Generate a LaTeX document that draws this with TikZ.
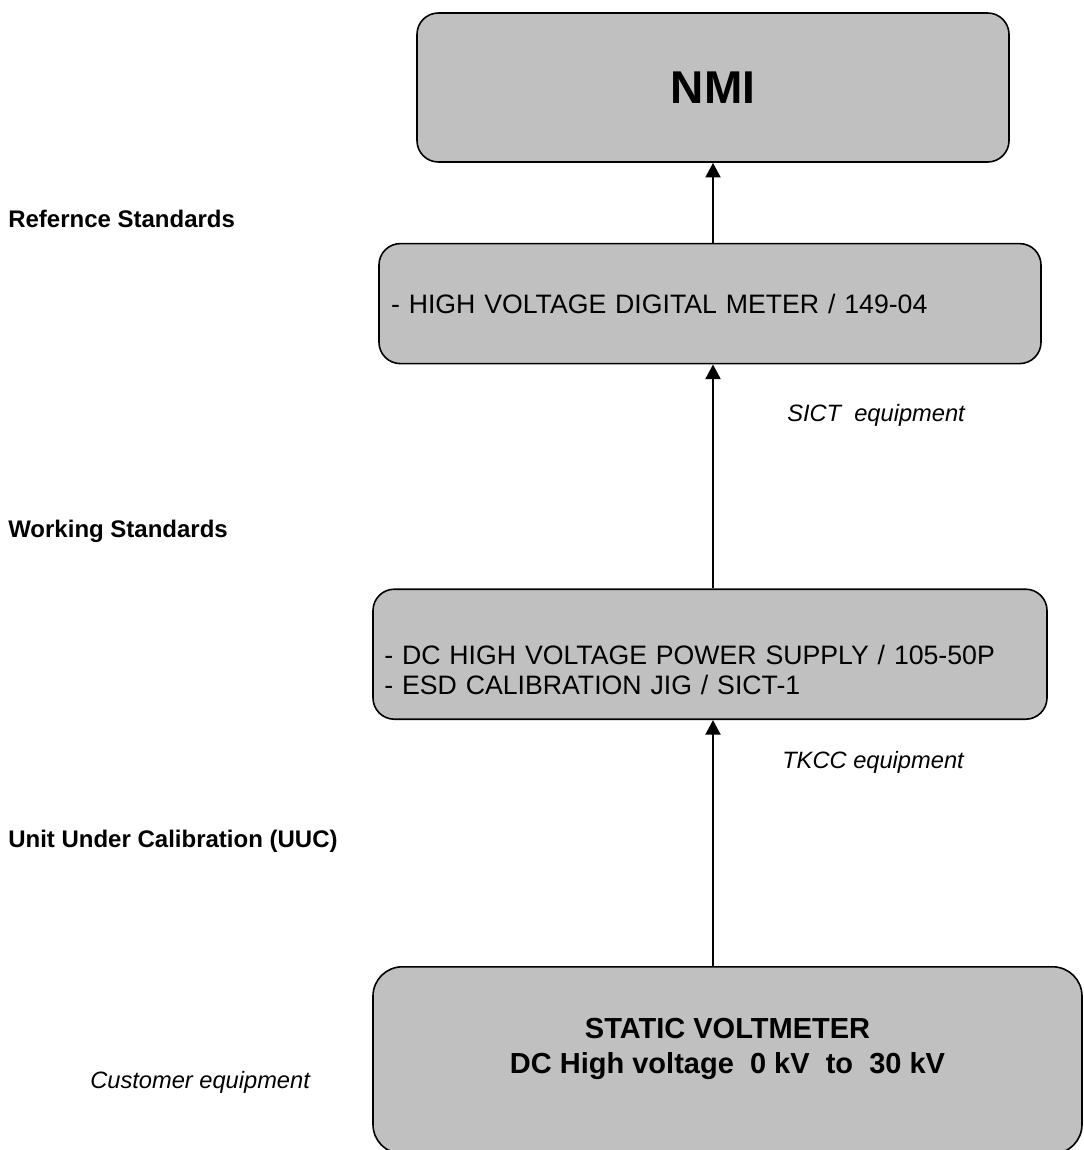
\documentclass[tikz,border=0pt]{standalone}
\usepackage{fontspec}
\setmainfont{Liberation Sans}
\usepackage{tikz}
\usetikzlibrary{positioning}
\usetikzlibrary{arrows.meta}
\definecolor{boxgray}{HTML}{C0C0C0}

\begin{document}
\begin{tikzpicture}[x=0.75pt, y=-0.75pt]

    \tikzstyle{std-box}     = [draw, line width=1.2pt, fill=boxgray, rounded corners=16pt, inner ysep=0pt];
    \tikzstyle{list-box}    = [std-box, align=left, font=\fontsize{20}{22.5}\selectfont];
    \tikzstyle{tier-label}  = [anchor=base west, inner sep=0pt, font=\fontsize{18}{21}\selectfont\bfseries];
    \tikzstyle{note-label}  = [anchor=base west, inner sep=0pt, font=\fontsize{17.75}{21}\selectfont\itshape];
    \tikzstyle{thick-arrow} = [line width=2.2pt, -{Triangle[length=11pt, width=11pt]}];

    \clip (0,0) rectangle (1083,1150);

    %
    % NMI
    %
    \node[std-box, minimum width=444pt, minimum height=111.75pt,
        font=\fontsize{34.5}{40}\selectfont\bfseries] (nmi) at (713,87.5) {NMI};

    %
    % Reference standards
    %
    \node[list-box, text width=478.5pt, inner xsep=9pt, minimum height=90pt] (refstd)
        [below=60pt of nmi, xshift=-2.25pt] {- HIGH VOLTAGE DIGITAL METER / 149-04};

    %
    % Working standards
    %
    \node[list-box, text width=488.5pt, inner xsep=8.5pt, minimum height=97.5pt] (workstd)
        [below=168pt of refstd] {\strut\\- DC HIGH VOLTAGE POWER SUPPLY / 105-50P\\- ESD CALIBRATION JIG / SICT-1};

    %
    % Unit under calibration
    %
    \node[std-box, align=center, minimum width=531.75pt, minimum height=140.25pt, rounded corners=22pt,
        font=\fontsize{21.75}{26}\selectfont\bfseries] (uuc) [below=184.5pt of workstd, xshift=13.125pt]
        {STATIC VOLTMETER\\DC High voltage\ \ 0 kV\ \ to\ \ 30 kV\rule[-22pt]{0pt}{22pt}};

    % Traceability arrows
    \draw[thick-arrow] (refstd.north -| nmi.south)  -- (nmi.south);
    \draw[thick-arrow] (workstd.north -| nmi.south) -- (refstd.south -| nmi.south);
    \draw[thick-arrow] (uuc.north -| nmi.south)     -- (workstd.south -| nmi.south);

    % Level labels
    \node[tier-label] (lbl-ref)  at (8,227)  {Refernce Standards};
    \node[tier-label] (lbl-work) at (8,537)  {Working Standards};
    \node[tier-label] (lbl-uuc)  at (8,847)  {Unit Under Calibration (UUC)};

    % Equipment owners
    \node[note-label] (own-sict) at (787,421)  {SICT\ \ equipment};
    \node[note-label] (own-tkcc) at (782,768)  {TKCC equipment};
    \node[note-label] (own-cust) at (90,1088)  {Customer equipment};
\end{tikzpicture}
\end{document}
